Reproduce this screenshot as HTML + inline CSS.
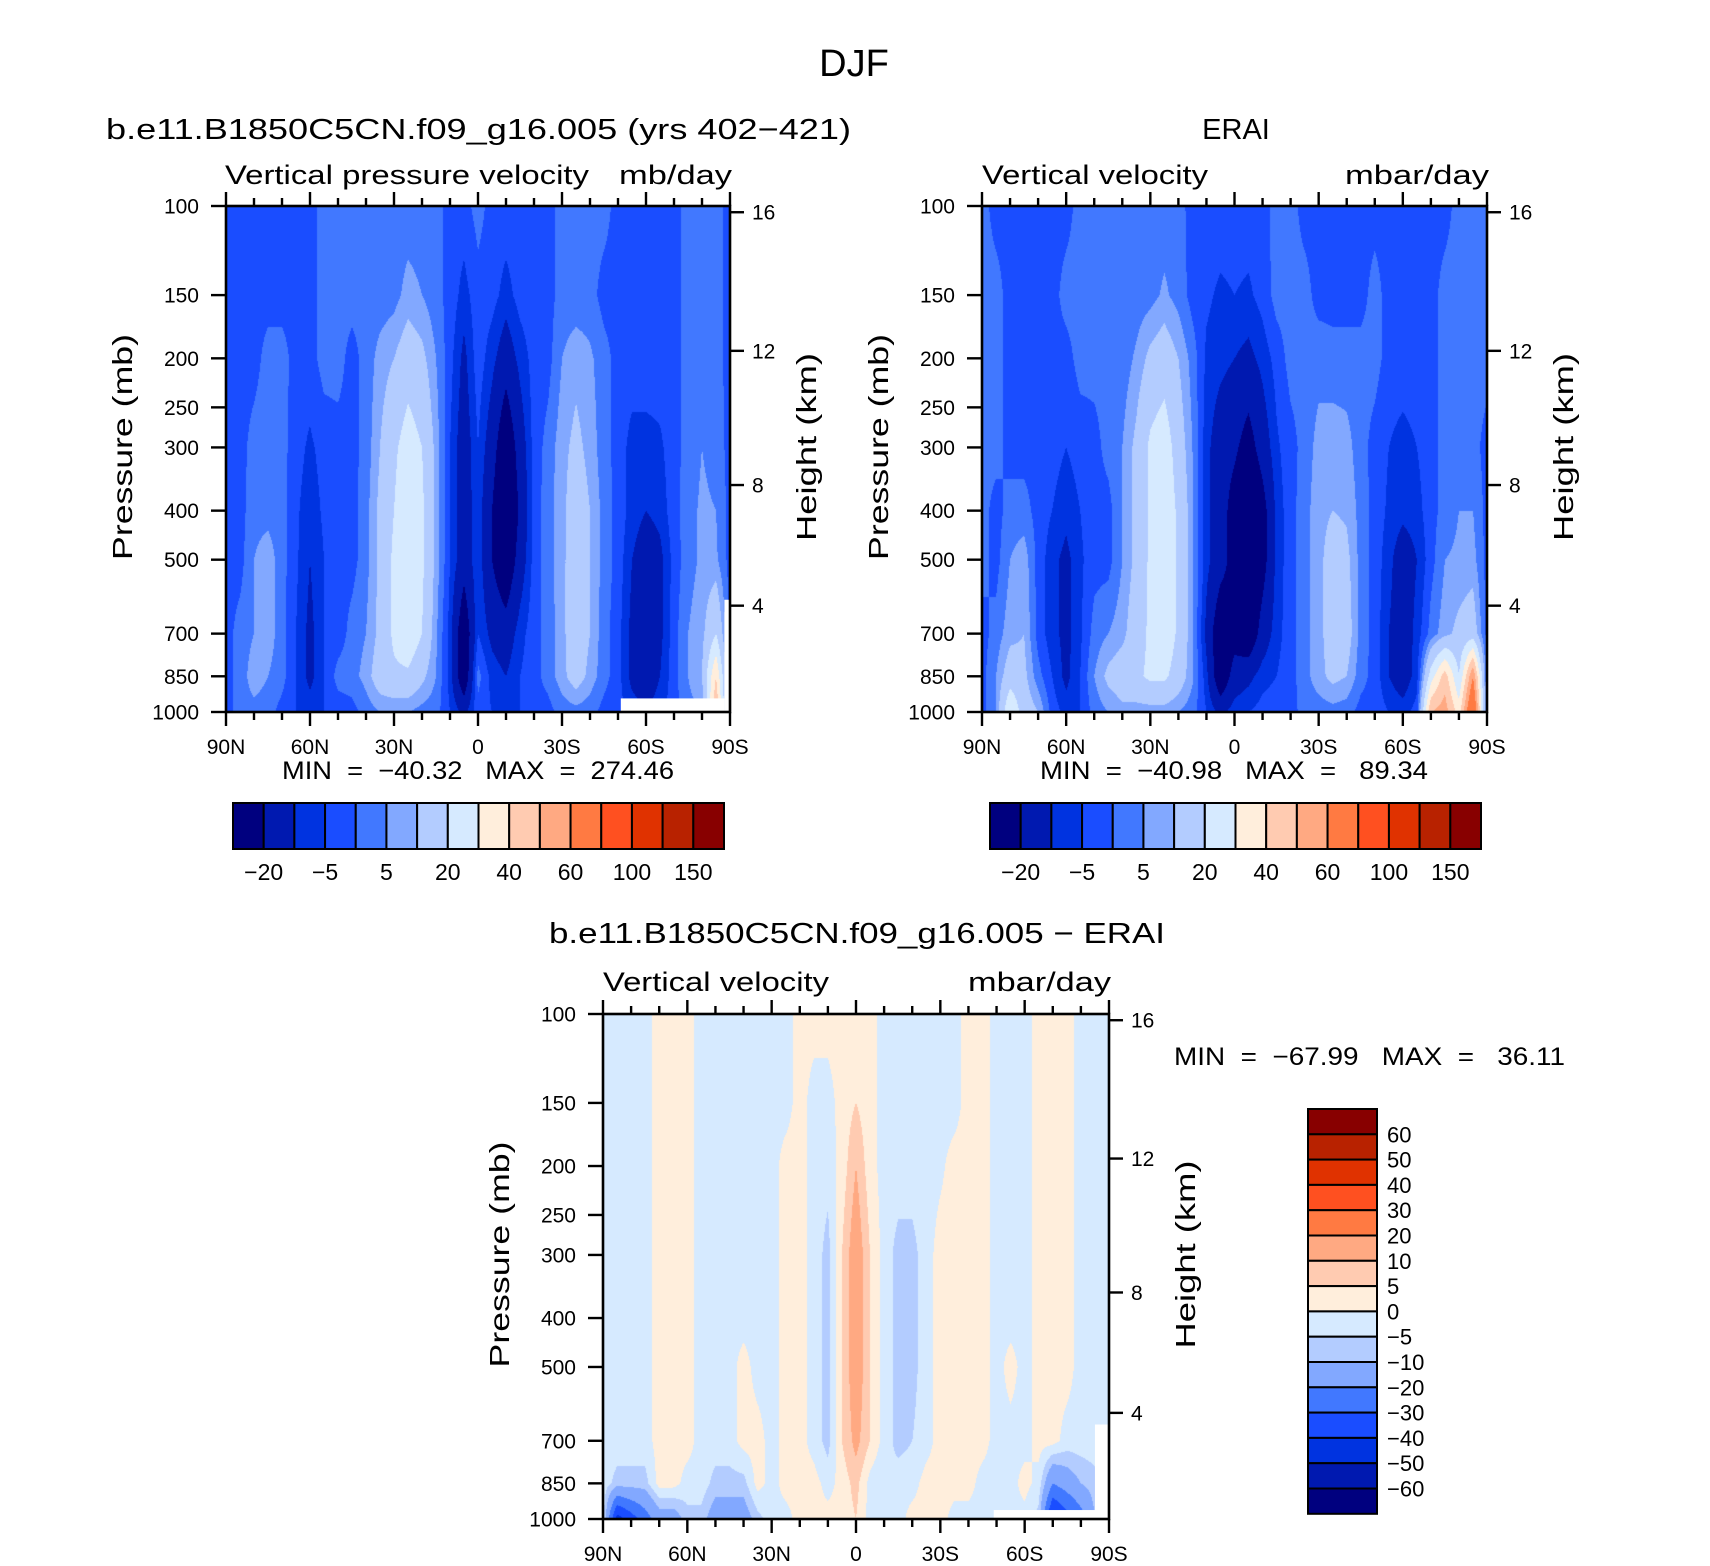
<!DOCTYPE html>
<html><head><meta charset="utf-8">
<style>
html,body{margin:0;padding:0;background:#fff;}
#wrap{position:relative;width:1710px;height:1566px;overflow:hidden;font-family:"Liberation Sans",sans-serif;}
canvas{position:absolute;}
svg{position:absolute;left:0;top:0;}
text{font-family:"Liberation Sans",sans-serif;fill:#000;white-space:pre;}
</style></head>
<body>
<div id="wrap">
<canvas id="c1"></canvas>
<canvas id="c2"></canvas>
<canvas id="c3"></canvas>
<svg id="s" width="1710" height="1566" viewBox="0 0 1710 1566">
<text x="854" y="76" font-size="38" text-anchor="middle">DJF</text>
<text x="106" y="139" font-size="29" textLength="745" lengthAdjust="spacingAndGlyphs">b.e11.B1850C5CN.f09_g16.005 (yrs 402−421)</text>
<text x="1236" y="139" font-size="29" text-anchor="middle">ERAI</text>
<text x="225" y="184" font-size="27" textLength="364" lengthAdjust="spacingAndGlyphs">Vertical pressure velocity</text>
<text x="619" y="184" font-size="27" textLength="113" lengthAdjust="spacingAndGlyphs">mb/day</text>
<text x="982" y="184" font-size="27" textLength="226" lengthAdjust="spacingAndGlyphs">Vertical velocity</text>
<text x="1345" y="184" font-size="27" textLength="144" lengthAdjust="spacingAndGlyphs">mbar/day</text>
<text x="549" y="943" font-size="29" textLength="616" lengthAdjust="spacingAndGlyphs">b.e11.B1850C5CN.f09_g16.005 − ERAI</text>
<text x="603" y="991" font-size="27" textLength="226" lengthAdjust="spacingAndGlyphs">Vertical velocity</text>
<text x="968" y="991" font-size="27" textLength="143" lengthAdjust="spacingAndGlyphs">mbar/day</text>
<text x="478" y="779" font-size="25" text-anchor="middle" textLength="392" lengthAdjust="spacingAndGlyphs" xml:space="preserve">MIN  =  −40.32   MAX  =  274.46</text>
<text x="1234" y="779" font-size="25" text-anchor="middle" textLength="388" lengthAdjust="spacingAndGlyphs" xml:space="preserve">MIN  =  −40.98   MAX  =   89.34</text>
<text x="1174" y="1065" font-size="25" textLength="391" lengthAdjust="spacingAndGlyphs" xml:space="preserve">MIN  =  −67.99   MAX  =   36.11</text>
<g id="g"></g>
</svg>
</div>
<script>
// ---- data ----
const lats = [90,85,80,75,70,65,60,55,50,45,40,35,30,25,20,15,10,5,0,-5,-10,-15,-20,-25,-30,-35,-40,-45,-50,-55,-60,-65,-70,-75,-80,-85,-90];
const levs = [100,150,200,300,400,500,700,850,1000];
const fieldLevels = [-20,-10,-5,0,5,10,20,30,40,50,60,80,100,125,150];
const diffLevels = [-60,-50,-40,-30,-20,-10,-5,0,5,10,20,30,40,50,60];
const palette = ['#00007f','#0019b0','#0033e0','#1a4dff','#4178ff','#82a8ff','#b3ccff','#d6eaff','#ffeedc','#ffcbb1','#ffa982','#ff7a42','#ff5020','#e03200','#b82200','#880000'];
const modelField = [
[-2,-2,-2,-2,-2,-2,-2,2,2,2,2,2,2,2,2,2,-2,-2,2,-2,-2,-2,-2,-2,2,2,2,2,-2,-2,-2,-2,-2,2,2,2,-2],
[-2,-2,-2,-2,-2,-2,-2,2,2,2,2,2,3,7,5,2,-2,-7,-2,-3,-7,-3,-2,-2,2,2,2,-2,-2,-2,-2,-2,-2,2,2,2,-2],
[-2,-2,-2,2,2,-2,-2,2,2,-2,2,7,10,15,12,5,-3,-12,-2,-8,-15,-8,-3,-2,5,8,6,2,-2,-2,-2,-2,-2,2,2,2,-2],
[-2,-2,2,3,2,-3,-6,-3,-2,-2,2,10,18,25,20,8,-5,-15,-5,-15,-30,-15,-3,2,8,12,8,2,-2,-7,-7,-6,-2,2,5,3,-2],
[-2,-2,3,3,2,-4,-8,-4,-2,-2,3,12,20,28,22,8,-5,-15,-6,-20,-35,-18,-3,3,8,15,10,3,-2,-7,-10,-8,-2,3,6,5,-2],
[-2,-2,5,8,2,-4,-10,-5,-2,-2,3,12,22,28,22,8,-5,-15,-6,-20,-30,-15,-3,3,8,16,10,3,-2,-10,-15,-12,-3,3,6,6,-2],
[-2,2,5,8,2,-5,-12,-5,-3,2,5,12,22,28,20,6,-7,-30,-5,-12,-15,-7,-2,2,8,16,10,2,-3,-12,-15,-12,-2,5,8,20,-2],
[-2,2,8,5,2,-5,-12,-5,2,3,7,15,18,18,12,5,-7,-30,2,-7,-10,-5,-2,2,8,14,8,2,-3,-12,-15,-10,-2,5,10,40,-2],
[-2,2,3,2,-2,-5,-7,-5,-3,-2,2,5,5,5,3,2,-5,-12,-2,-5,-7,-5,-2,-2,2,3,2,-2,-3,-7,-10,-7,-2,3,5,50,-2]];
const eraiField = [
[2,-2,-2,-2,-2,-2,-2,2,2,2,2,2,2,2,2,-2,-2,-2,-2,-2,-2,2,2,-2,-2,-2,-2,-2,-2,-2,-2,-2,-2,-2,2,2,2],
[2,2,-2,-2,-2,-2,2,2,2,2,2,2,3,6,3,-2,-4,-6,-5,-6,-3,2,2,2,-2,-2,-2,-2,2,-2,-2,-2,-2,2,2,2,2],
[2,2,-2,-2,-2,-2,-2,2,2,2,2,6,12,15,10,3,-6,-8,-10,-12,-8,-3,2,2,3,2,2,2,2,-2,-2,-2,-2,2,2,2,2],
[2,2,-2,-2,-2,-3,-5,-3,-2,2,5,12,22,26,15,5,-8,-15,-18,-25,-15,-6,-2,2,7,8,7,2,-2,-5,-7,-5,-2,2,2,2,-2],
[2,-2,2,2,-2,-5,-8,-5,-2,-2,5,12,22,28,18,6,-8,-15,-25,-35,-25,-8,-2,3,8,10,9,3,-2,-6,-8,-7,-2,2,5,5,-2],
[2,-2,5,8,-2,-8,-12,-6,-2,-2,5,12,22,28,18,6,-8,-15,-25,-35,-25,-8,-2,3,8,14,12,3,-2,-8,-15,-10,-2,5,6,7,-2],
[-2,2,8,10,-2,-8,-12,-6,2,5,8,15,22,28,18,6,-12,-30,-25,-30,-15,-7,-2,3,8,14,14,3,-2,-10,-15,-8,2,8,12,15,-2],
[-2,5,15,12,2,-5,-12,-5,5,12,15,18,22,22,15,6,-8,-30,-15,-12,-7,-5,-2,3,8,12,10,2,-2,-10,-15,-7,25,45,20,60,-2],
[-2,5,30,15,10,-2,-7,-5,2,5,8,7,7,7,5,2,-5,-12,-7,-5,-3,-2,-2,2,2,3,2,-2,-2,-5,-7,-3,50,55,35,80,-2]];
const diffField = [
[-2,-2,-2,-2,2,2,2,-2,-2,-2,-2,-2,-2,-2,2,2,2,2,2,2,-2,-2,-2,-2,-2,-2,2,2,-2,-2,-2,2,2,2,-2,-2,-2],
[-2,-2,-2,-2,2,2,2,-2,-2,-2,-2,-2,-2,-2,2,-2,-2,2,5,2,-2,-2,-2,-2,-2,-2,2,2,-2,-2,-2,2,2,2,-2,-2,-2],
[-2,-2,-2,-2,2,2,2,-2,-2,-2,-2,-2,-2,2,2,-2,-3,2,10,2,-2,-2,-2,-2,-1,2,2,2,-2,-2,-2,2,2,2,-2,-2,-2],
[-2,-2,-2,-2,2,2,2,-2,-2,-2,-2,-2,-2,2,2,-2,-7,5,15,5,-2,-7,-7,-2,2,2,2,2,-2,-2,-2,2,2,2,-2,-2,-2],
[-2,-2,-2,-2,2,2,2,-2,-2,-2,-2,-2,-2,2,2,-2,-7,5,15,5,-2,-7,-7,-2,2,2,2,2,-2,-2,-2,2,2,2,-2,-2,-2],
[-2,-2,-2,-2,2,2,2,-2,-2,-2,2,-2,-2,2,2,-2,-7,5,15,5,-2,-7,-7,-2,2,2,2,2,-2,2,-2,2,2,2,-2,-2,-2],
[-2,-2,-2,-2,2,2,2,-2,-2,-2,2,2,-2,2,2,-2,-7,5,12,5,-2,-7,-5,-2,2,2,2,2,-2,-2,-2,2,2,-2,-2,-2,-2],
[-2,-7,-7,-7,2,2,-2,-2,-7,-7,-7,2,-2,2,2,2,-2,2,7,-2,-5,-2,-2,2,2,2,2,-2,-2,-2,2,-2,-20,-15,-10,-7,-2],
[-2,-45,-35,-25,-15,-15,-7,-7,-15,-15,-15,-7,-2,-2,2,2,2,2,5,-2,-2,-2,2,2,2,-2,-2,-2,-2,-2,-2,-7,-45,-35,-25,-10,-2]];
const latTicks = [90,60,30,0,-30,-60,-90];
const latTickLabels = ['90N','60N','30N','0','30S','60S','90S'];
const presTicks = [100,150,200,250,300,400,500,700,850,1000];
const heightTicks = [4,8,12,16];
const topBarLabels = ['−20','−5','5','20','40','60','100','150'];
const diffBarLabels = ['60','50','40','30','20','10','5','0','−5','−10','−20','−30','−40','−50','−60'];

const P1={x0:226,x1:730,y0:206,y1:712}, P2={x0:982,x1:1487,y0:206,y1:712}, P3={x0:603,x1:1109,y0:1014,y1:1519};
const NS='http://www.w3.org/2000/svg';
const G=document.getElementById('g');
function el(tag,attrs,parent){const e=document.createElementNS(NS,tag);for(const k in attrs)e.setAttribute(k,attrs[k]);(parent||G).appendChild(e);return e;}
function xOf(P,lat){return P.x0+(90-lat)/180*(P.x1-P.x0);}
function yOf(P,p){return P.y0+Math.log10(p/100)*(P.y1-P.y0);}
function zToP(z){const m=z*1000;return m<=11000?1013.25*Math.pow(1-2.25577e-5*m,5.25588):226.32*Math.exp(-(m-11000)/6341.6);}
function colorIdx(v,levels){let i=0;while(i<levels.length&&v>=levels[i])i++;return i;}

function drawField(id,P,grid,levels){
  const c=document.getElementById(id);const W=Math.round(P.x1-P.x0),H=Math.round(P.y1-P.y0);
  c.width=W;c.height=H;c.style.left=P.x0+'px';c.style.top=P.y0+'px';
  const ctx=c.getContext('2d');const img=ctx.createImageData(W,H);
  const rgb=palette.map(h=>[parseInt(h.substr(1,2),16),parseInt(h.substr(3,2),16),parseInt(h.substr(5,2),16)]);
  const lg=levs.map(p=>Math.log10(p));
  for(let y=0;y<H;y++){
    const lp=2+(y+0.5)/H;let r=0;while(r<lg.length-2&&lp>lg[r+1])r++;
    const fr=Math.min(1,Math.max(0,(lp-lg[r])/(lg[r+1]-lg[r])));
    for(let x=0;x<W;x++){
      const lat=90-180*(x+0.5)/W;let ci=(lats[0]-lat)/(lats[0]-lats[1]);let c0=Math.min(lats.length-2,Math.floor(ci));const fc=ci-c0;
      const v=(1-fr)*((1-fc)*grid[r][c0]+fc*grid[r][c0+1])+fr*((1-fc)*grid[r+1][c0]+fc*grid[r+1][c0+1]);
      const k=rgb[colorIdx(v,levels)];const o=(y*W+x)*4;img.data[o]=k[0];img.data[o+1]=k[1];img.data[o+2]=k[2];img.data[o+3]=255;
    }
  }
  ctx.putImageData(img,0,0);
}
drawField('c1',P1,modelField,fieldLevels);
drawField('c2',P2,eraiField,fieldLevels);
drawField('c3',P3,diffField,diffLevels);

function mask(P,lat0,lat1,p0,p1,name){const r=el('rect',{x:xOf(P,lat0),y:yOf(P,p0),width:xOf(P,lat1)-xOf(P,lat0),height:yOf(P,p1)-yOf(P,p0),fill:'#fff'});}
mask(P1,-51,-88,940,1000,'model-missing-data');
mask(P1,-88,-90,600,1000,'model-missing-data-edge');
mask(P3,-49,-88,960,1000,'difference-missing-data');
mask(P3,-85,-90,650,1000,'difference-missing-data-edge');

function axes(P,tag){
  const f=el('rect',{x:P.x0,y:P.y0,width:P.x1-P.x0,height:P.y1-P.y0,fill:'none',stroke:'#000','stroke-width':2.6});
  
  for(let lat=90;lat>=-90;lat-=10){
    const x=xOf(P,lat);const major=lat%30===0;const L=major?14:8;
    el('line',{x1:x,x2:x,y1:P.y1,y2:P.y1+L,stroke:'#000','stroke-width':2.4});
    el('line',{x1:x,x2:x,y1:P.y0,y2:P.y0-L,stroke:'#000','stroke-width':2.4});
  }
  latTicks.forEach((lat,i)=>{const t=el('text',{x:xOf(P,lat),y:P.y1+42,'font-size':21,'text-anchor':'middle'});t.textContent=latTickLabels[i];});
  presTicks.forEach(p=>{const y=yOf(P,p);el('line',{x1:P.x0-15,x2:P.x0,y1:y,y2:y,stroke:'#000','stroke-width':2.4});
    const t=el('text',{x:P.x0-27,y:y+7.5,'font-size':21,'text-anchor':'end'});t.textContent=String(p);});
  heightTicks.forEach(z=>{const y=yOf(P,zToP(z));el('line',{x1:P.x1,x2:P.x1+14,y1:y,y2:y,stroke:'#000','stroke-width':2.4});
    const t=el('text',{x:P.x1+22,y:y+7.5,'font-size':21});t.textContent=String(z);});
  const cy=(P.y0+P.y1)/2-12;
  const a=el('text',{x:0,y:0,'font-size':28,'text-anchor':'middle',transform:`translate(${P.x0-94},${cy}) rotate(-90)`,textLength:226,lengthAdjust:'spacingAndGlyphs'});a.textContent='Pressure (mb)';
  const b=el('text',{x:0,y:0,'font-size':28,'text-anchor':'middle',transform:`translate(${P.x1+86},${cy}) rotate(-90)`,textLength:188,lengthAdjust:'spacingAndGlyphs'});b.textContent='Height (km)';
}
axes(P1,'model');axes(P2,'erai');axes(P3,'difference');

function hbar(x0,x1,y0,y1,tag){
  const w=(x1-x0)/palette.length;
  palette.forEach((c,i)=>{const r=el('rect',{x:x0+i*w,y:y0,width:w,height:y1-y0,fill:c,stroke:'#000','stroke-width':2});});
  topBarLabels.forEach((s,j)=>{const t=el('text',{x:x0+(2*j+1)*w,y:y1+31,'font-size':23,'text-anchor':'middle'});t.textContent=s;});
}
hbar(233,724,803,849,'model');
hbar(990,1481,803,849,'erai');
(function(){const x0=1308,x1=1377,y0=1109,h=25.3;const n=palette.length;
  for(let i=0;i<n;i++){const r=el('rect',{x:x0,y:y0+i*h,width:x1-x0,height:h,fill:palette[n-1-i],stroke:'#000','stroke-width':2});}
  diffBarLabels.forEach((s,j)=>{const t=el('text',{x:1387,y:y0+(j+1)*h+8,'font-size':22});t.textContent=s;});
})();
</script>
</body></html>
